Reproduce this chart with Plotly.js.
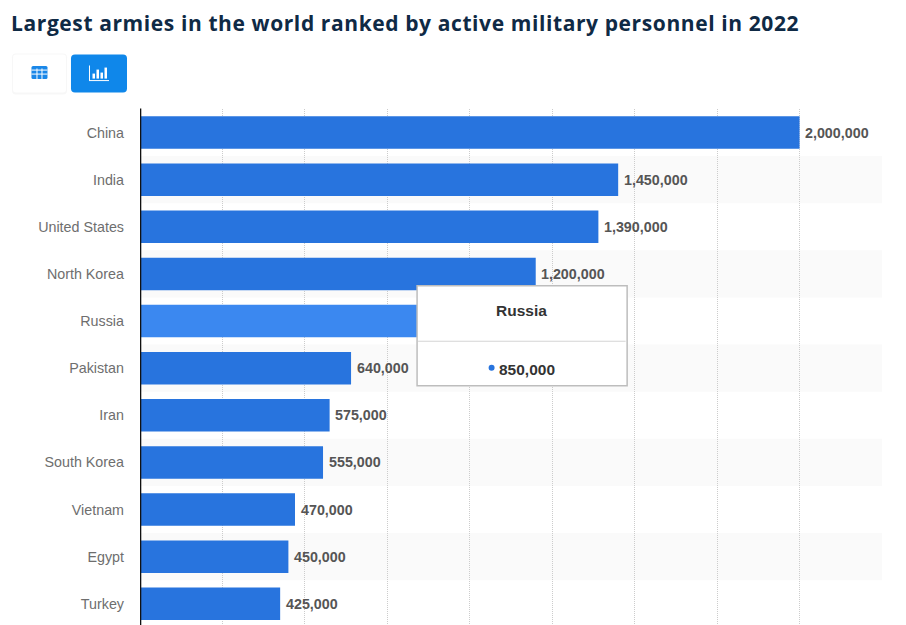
<!DOCTYPE html>
<html><head><meta charset="utf-8">
<script src="https://cdn.plot.ly/plotly-3.0.1.min.js"></script>
<style>html,body{margin:0;padding:0;background:#fff;overflow:hidden}#c{width:906px;height:625px}
.gtitle{letter-spacing:.6px}</style>
</head><body><div id="c"></div>
<script>
const countries = ["China","India","United States","North Korea","Russia","Pakistan","Iran","South Korea","Vietnam","Egypt","Turkey"];
const personnel = [2000000,1450000,1390000,1200000,850000,640000,575000,555000,470000,450000,425000];
const highlighted = "Russia";
const tickValues = [0,250000,500000,750000,1000000,1250000,1500000,1750000,2000000,2250000];
const titleText = "Largest armies in the world ranked by active military personnel in 2022";

const W=906,H=625,L=140,R=881.8,T=109.4,B=625;
const px=x=>(x-L)/(R-L), py=y=>1-(y-T)/(B-T);
const rr=(x0,y0,x1,y1,r)=>`M${px(x0+r)},${py(y0)}L${px(x1-r)},${py(y0)}Q${px(x1)},${py(y0)} ${px(x1)},${py(y0+r)}L${px(x1)},${py(y1-r)}Q${px(x1)},${py(y1)} ${px(x1-r)},${py(y1)}L${px(x0+r)},${py(y1)}Q${px(x0)},${py(y1)} ${px(x0)},${py(y1-r)}L${px(x0)},${py(y0+r)}Q${px(x0)},${py(y0)} ${px(x0+r)},${py(y0)}Z`;
const box=(x0,y0,x1,y1,fill,line,lw)=>({type:'rect',xref:'paper',yref:'paper',layer:'above',x0:px(x0),x1:px(x1),y0:py(y0),y1:py(y1),fillcolor:fill,line:{color:line||fill,width:lw||0}});
const pth=(d,fill,line,lw)=>({type:'path',xref:'paper',yref:'paper',layer:'above',path:d,fillcolor:fill,line:{color:line||fill,width:lw||0}});

const shapes=[];
// zebra bands
countries.forEach((c,i)=>{ if(i%2===1) shapes.push({type:'rect',xref:'paper',yref:'y',layer:'below',x0:0,x1:1,y0:i-0.5,y1:i+0.5,fillcolor:'#fafafa',line:{width:0}}); });
// vertical axis line
shapes.push(box(140,109,141.3,625,'#111111'));
// buttons
shapes.push(pth(rr(12,54,67,95,4),'#f7f7f7'));
shapes.push(pth(rr(13,55,66,93,3),'#ffffff'));
shapes.push(pth(rr(71,55,127,93,4),'#0f87ea'));
// table icon
shapes.push(pth(rr(31.5,66.5,47.5,79.5,1.5),'#1a87e8'));
[36.5,41.5].forEach(x=>shapes.push(box(x,69,x+1,79.5,'#ffffff')));
[70,74].forEach(y=>shapes.push(box(31.5,y,47.5,y+1,'#ffffff')));
// chart icon
shapes.push(box(89,66,90,81,'#ffffff'));
shapes.push(box(89,80.5,109,81.5,'#ffffff'));
[[92.5,74],[96.5,70],[100.5,73],[104.5,68]].forEach(b=>shapes.push(box(b[0],b[1],b[0]+2.5,79,'#ffffff')));
// tooltip
shapes.push(box(417,286,627,386,'#ffffff','#bdbdbd',1.5));
shapes.push(box(418,341,625.5,342,'#d4d4d4'));
shapes.push({type:'circle',xref:'paper',yref:'paper',layer:'above',x0:px(488.5),x1:px(494.5),y0:py(365),y1:py(371),fillcolor:'#2874de',line:{width:0}});

const FONT='"Liberation Sans",Arial,sans-serif';
const ann=(x,y,text,size,color,bold,anchor)=>({xref:'paper',yref:'paper',x:px(x),y:py(y),text:bold?`<b>${text}</b>`:text,showarrow:false,xanchor:anchor||'center',yanchor:'middle',font:{family:FONT,size,color}});

// value labels, placed from the data through the axes (Russia's is hidden behind the tooltip)
const valueLabels=countries.map((c,i)=>({xref:'x',yref:'y',x:personnel[i],y:c,text:`<b>${personnel[i].toLocaleString('en-US')}</b>`,showarrow:false,xanchor:'left',yanchor:'middle',xshift:3.5,yshift:0,font:{family:FONT,size:14.3,color:'#555'}})).filter(a=>a.y!==highlighted);

const data=[{
  type:'bar',orientation:'h',y:countries,x:personnel,width:0.69,
  marker:{color:countries.map(c=>c===highlighted?'#3b88f0':'#2874de'),line:{width:0}},
  hoverinfo:'skip'
}];
const layout={
  width:W,height:H,paper_bgcolor:'#fff',plot_bgcolor:'rgba(0,0,0,0)',showlegend:false,
  margin:{l:L,r:W-R,t:T,b:H-B,pad:0},
  title:{text:`<b>${titleText}</b>`,x:11/W,xanchor:'left',y:1-24/H,yanchor:'middle',font:{family:'"Open Sans",sans-serif',size:21,color:'#0f2a45'}},
  xaxis:{range:[0,2250000],tickvals:tickValues,showticklabels:false,showgrid:true,gridcolor:'#cccccc',griddash:'1px,1px',gridwidth:1,zeroline:false,showline:false,ticks:''},
  yaxis:{type:'category',categoryorder:'array',categoryarray:countries,range:[10.45,-0.5],showgrid:false,zeroline:false,showline:false,ticks:'',ticklabelstandoff:15,
    tickfont:{family:FONT,size:14.3,color:'#6e6e6e'}},
  shapes,
  annotations:[
    ...valueLabels,
    ann(521.5,310.5,'Russia',15.5,'#333',true),
    ann(527,369.5,personnel[countries.indexOf(highlighted)].toLocaleString('en-US'),15.5,'#333',true)
  ]
};
Plotly.newPlot('c',data,layout,{displayModeBar:false,staticPlot:true});
</script></body></html>
